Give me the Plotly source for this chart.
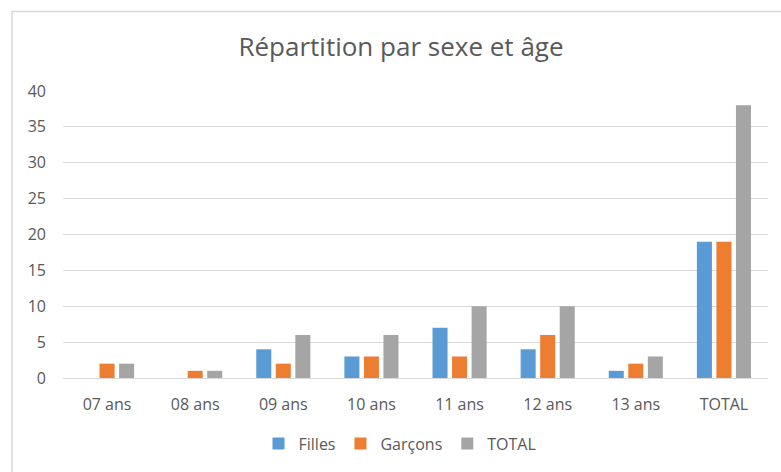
import plotly.graph_objects as go

categories = ["07 ans", "08 ans", "09 ans", "10 ans", "11 ans", "12 ans", "13 ans", "TOTAL"]
filles = [0, 0, 4, 3, 7, 4, 1, 19]
garcons = [2, 1, 2, 3, 3, 6, 2, 19]
total = [2, 1, 6, 6, 10, 10, 3, 38]
y_ticks = [0, 5, 10, 15, 20, 25, 30, 35, 40]

FONT = "Open Sans, sans-serif"
GRID = "#d9d9d9"
TXT = "#595959"

fig = go.Figure()
fig.add_trace(go.Bar(name="Filles", x=categories, y=filles, marker_color="#5B9BD5", marker_line_width=0))
fig.add_trace(go.Bar(name="Garçons", x=categories, y=garcons, marker_color="#ED7D31", marker_line_width=0))
fig.add_trace(go.Bar(name="TOTAL", x=categories, y=total, marker_color="#A5A5A5", marker_line_width=0))

L, R, T, B = 63, 13, 91, 92
W, H = 781, 472
pw, ph = W - L - R, H - T - B

fig.update_layout(
    width=W, height=H,
    margin=dict(l=L, r=R, t=T, b=B),
    paper_bgcolor="white", plot_bgcolor="white",
    barmode="group", bargap=0.335, bargroupgap=0.23,
    font=dict(family=FONT, color=TXT, size=15),
    title=dict(text="Répartition par sexe et âge", x=401 / W, xanchor="center",
               y=1 - 47 / H, yanchor="middle",
               font=dict(family=FONT, size=26, color=TXT)),
    legend=dict(orientation="h", x=(400 - L) / pw, xanchor="center",
                y=(H - B - 446) / ph, yanchor="middle",
                font=dict(family=FONT, size=16, color=TXT),
                itemwidth=30, traceorder="normal"),
    xaxis=dict(showgrid=False, showline=True, linecolor=GRID, linewidth=1,
               ticks="", ticklabelstandoff=12, tickfont=dict(size=16, color=TXT)),
    yaxis=dict(range=[0, 40], tickvals=y_ticks, showgrid=True, gridcolor=GRID,
               gridwidth=1, zeroline=False, showline=False, ticks="",
               ticklabelstandoff=16, tickfont=dict(size=16, color=TXT)),
    shapes=[dict(type="rect", xref="paper", yref="paper",
                 x0=(12 - L) / pw, x1=(W + 5 - L) / pw,
                 y0=(H - B - (H + 5)) / ph, y1=(H - B - 11) / ph,
                 line=dict(color=GRID, width=1.5), fillcolor="rgba(0,0,0,0)",
                 layer="below")],
)

fig.write_html("out.html", config={"displayModeBar": False},
               post_script="document.body.style.margin='0';")
